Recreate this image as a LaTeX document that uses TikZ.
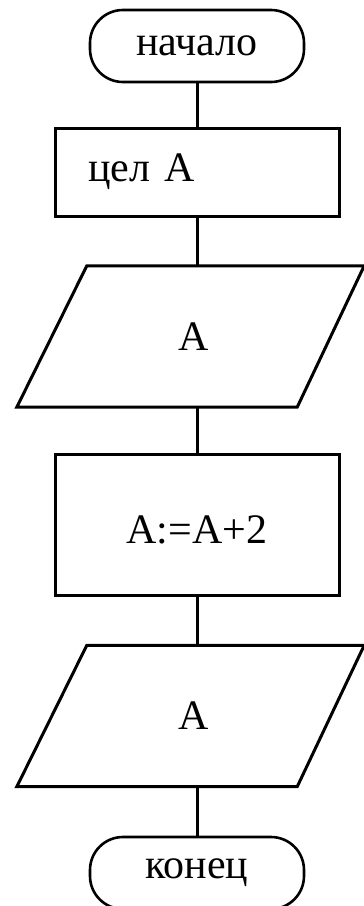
\documentclass[tikz,border=0pt]{standalone}
\usepackage{fontspec}
\setmainfont{Liberation Serif}
\begin{document}
\begin{tikzpicture}[x=1pt,y=-1pt,
  every node/.style={font=\fontsize{42pt}{50pt}\selectfont, inner sep=0pt},
  term/.style={draw, line width=2.6pt, rounded corners=33pt, minimum width=214pt, minimum height=72pt},
  procbox/.style={draw, line width=3pt, minimum width=284pt},
  iobox/.style={minimum width=354pt, minimum height=141pt},
  ioline/.style={line width=3pt, line join=miter},
  conn/.style={line width=3pt}]
\useasboundingbox (0,0) rectangle (364,906);
\node[term] (start) at (197,46) {начало};
\node[procbox, minimum height=88pt, text width=218pt, inner xsep=33pt, align=left] (r1) at (197,172) {цел А};
\node[iobox] (p1) at (194,336.5) {А};
\node[procbox, minimum height=141pt, text height=37pt, text depth=0pt] (r2) at (197,524.5) {A:=A+2};
\node[iobox] (p2) at (194,716) {А};
\node[term] (stop) at (197,873) {конец};
\draw[ioline] (p1.south west) -- ([xshift=70pt]p1.north west) -- ([xshift=-7pt]p1.north east) -- ([xshift=-74pt]p1.south east) -- cycle;
\draw[ioline] (p2.south west) -- ([xshift=70pt]p2.north west) -- ([xshift=-7pt]p2.north east) -- ([xshift=-74pt]p2.south east) -- cycle;
\draw[conn] (start.south) -- (r1.north);
\draw[conn] (r1.south) -- (r1.south |- p1.north);
\draw[conn] (r1.south |- p1.south) -- (r2.north);
\draw[conn] (r2.south) -- (r2.south |- p2.north);
\draw[conn] (r2.south |- p2.south) -- (stop.north);
\end{tikzpicture}
\end{document}
